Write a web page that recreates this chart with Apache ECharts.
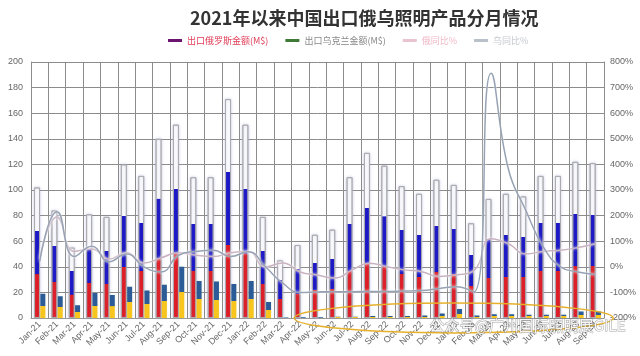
<!DOCTYPE html>
<html><head><meta charset="utf-8">
<script src="https://cdn.jsdelivr.net/npm/echarts@6/dist/echarts.min.js"></script>
<style>html,body{margin:0;padding:0;background:#fff}#c{width:640px;height:356px}</style>
</head><body><div id="c"></div>
<script>
const months = ['Jan-21','Feb-21','Mar-21','Apr-21','May-21','Jun-21','Jul-21','Aug-21','Sep-21','Oct-21','Nov-21','Dec-21',
  'Jan-22','Feb-22','Mar-22','Apr-22','May-22','Jun-22','Jul-22','Aug-22','Sep-22','Oct-22','Nov-22','Dec-22',
  'Jan-23','Feb-23','Mar-23','Apr-23','May-23','Jun-23','Jul-23','Aug-23','Sep-23'];
const russia = [102,84,55,81,79,120,111,140,151,110,110,171,151,79,45,57,65,69,110,129,119,103,97,108,104,74,93,97,95,111,111,122,121];
const ukraine = [19,17,10,19.5,18,24.5,21.5,26,40,29,28.5,26.5,29,12.5,0.3,0.5,0.5,1,1,1.5,1.5,1.5,2,3.5,7,2,3,3,2.5,2.5,2.5,5,5];
const ruYoY = [30,195,60,70,30,55,15,35,55,45,40,55,60,0,15,-20,-32,-44,-12,14,0,-12,-19,-38,-32,-15,110,90,50,60,65,75,90];
const uaYoY = [20,215,40,80,20,50,0,-20,45,60,65,40,59,0,-64,-100,-98,-97,-97,-96,-96,-95,-93,-85,-78,-98,756,380,220,78,0,-20,-30];
const leftMin = 0, leftMax = 200, leftStep = 20;
const rightMin = -200, rightMax = 800, rightStep = 100;

const chart = echarts.init(document.getElementById('c'), null, {renderer:'canvas'});
const ruFill = new echarts.graphic.LinearGradient(0,0,0,1,[
  {offset:0,color:'#ffffff'},{offset:0.333,color:'#ffffff'},
  {offset:0.334,color:'#1410c4'},{offset:0.666,color:'#1410c4'},
  {offset:0.667,color:'#e3161b'},{offset:1,color:'#e3161b'}]);
const uaFill = new echarts.graphic.LinearGradient(0,0,0,1,[
  {offset:0,color:'#2b5c98'},{offset:0.5,color:'#2b5c98'},
  {offset:0.501,color:'#f7c51e'},{offset:1,color:'#f7c51e'}]);
const labelFont = 'Arial, "Liberation Sans", "Noto Sans CJK SC", sans-serif';

chart.setOption({
  animation:false,
  backgroundColor:'#fff',
  title:{text:'2021年以来中国出口俄乌照明产品分月情况', left:185, top:4,
    textStyle:{fontSize:18,fontWeight:'bold',color:'#333',fontFamily:'"Noto Sans CJK SC", sans-serif'}},
  legend:{top:31,left:163,itemGap:17,itemWidth:14,itemHeight:3,
    textStyle:{fontSize:9,fontFamily:'"Noto Sans CJK SC", sans-serif'},
    data:[
      {name:'出口俄罗斯金额(M$)',icon:'rect',itemStyle:{color:'#6b1470',borderWidth:0},textStyle:{color:'#e0405a'}},
      {name:'出口乌克兰金额(M$)',icon:'rect',itemStyle:{color:'#3f7a36',borderWidth:0},textStyle:{color:'#888'}},
      {name:'俄同比%',icon:'rect',itemStyle:{color:'#e9c3cf'},textStyle:{color:'#efb8c6'}},
      {name:'乌同比%',icon:'rect',itemStyle:{color:'#b9c0ca'},textStyle:{color:'#c4c8ce'}}
    ]},
  grid:{left:31,right:36,top:62,bottom:38},
  xAxis:{type:'category',data:months,boundaryGap:true,
    axisLine:{show:true,lineStyle:{color:'#999'}},axisTick:{show:false},
    splitLine:{show:true,lineStyle:{color:'#8c8c8c',width:1}},
    axisLabel:{rotate:45,fontSize:9,color:'#666',interval:0,margin:5,fontFamily:labelFont}},
  yAxis:[
    {type:'value',min:leftMin,max:leftMax,interval:leftStep,
      axisLine:{show:true,lineStyle:{color:'#8c8c8c'}},axisTick:{show:false},
      splitLine:{lineStyle:{color:'#8c8c8c',width:1}},
      axisLabel:{fontSize:9,color:'#666',margin:8,fontFamily:labelFont}},
    {type:'value',min:rightMin,max:rightMax,interval:rightStep,
      axisLine:{show:true,lineStyle:{color:'#8c8c8c'}},axisTick:{show:false},splitLine:{show:false},
      axisLabel:{fontSize:9,color:'#666',margin:6,formatter:'{value}%',fontFamily:labelFont}}
  ],
  series:[
    {name:'出口俄罗斯金额(M$)',type:'bar',data:russia,barWidth:6,barGap:'5%',z:2,
      itemStyle:{color:ruFill,borderColor:'rgba(170,170,170,0.85)',borderWidth:1,
        shadowColor:'rgba(150,150,220,0.45)',shadowBlur:3}},
    {name:'出口乌克兰金额(M$)',type:'bar',data:ukraine,barWidth:5,z:2,
      itemStyle:{color:uaFill,shadowColor:'rgba(200,200,150,0.4)',shadowBlur:2}},
    {name:'俄同比%',type:'line',yAxisIndex:1,data:ruYoY,smooth:0.5,symbol:'none',z:4,
      lineStyle:{color:'#c9b3c1',width:1.5,shadowColor:'#ffffff',shadowBlur:3}},
    {name:'乌同比%',type:'line',yAxisIndex:1,data:uaYoY,smooth:0.5,symbol:'none',z:4,
      lineStyle:{color:'#97a3b4',width:1.5,shadowColor:'#ffffff',shadowBlur:3}}
  ]
});

// annotation ellipse around the Ukraine bars after Apr-22, and watermark
const pA = chart.convertToPixel({gridIndex:0},['Apr-22',0]);
const pB = chart.convertToPixel({gridIndex:0},['Sep-23',0]);
const cx = (pA[0]+pB[0])/2 + 6, cy = pA[1];
chart.setOption({graphic:[
  {type:'ellipse',shape:{cx:cx,cy:cy,rx:(pB[0]-pA[0])/2+12,ry:15},
    style:{fill:'none',stroke:'#e6b02c',lineWidth:1.5},z:10},
  {type:'text',right:14,top:317,z:11,
    style:{text:'公众号@广州国际照明展GILE',font:'15px "Noto Sans CJK SC", sans-serif',
      fill:'rgba(255,255,255,0.9)',stroke:'rgba(90,90,90,0.55)',lineWidth:1}}
]});
</script></body></html>
